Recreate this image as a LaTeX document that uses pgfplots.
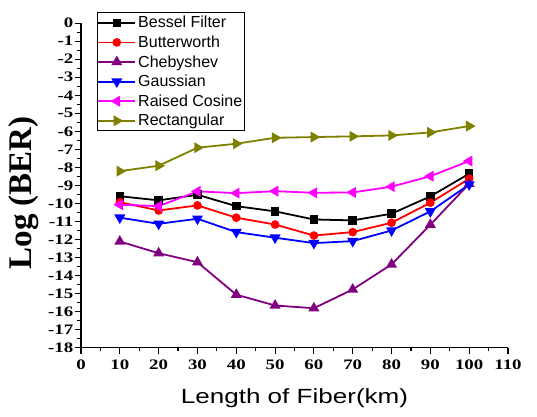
\documentclass[border=0pt]{standalone}
\usepackage{graphicx}
\usepackage{pgfplots}
\pgfplotsset{compat=1.18}
\usepackage{fontspec}
\setmainfont{Liberation Serif}
\newfontfamily\arial{Liberation Sans}
\definecolor{myolive}{RGB}{128,128,0}
\definecolor{mypurple}{RGB}{128,0,128}
\definecolor{mymagenta}{RGB}{255,0,255}
\newcommand\tkl[1]{\scalebox{1.3}[1]{\fontsize{14.5}{14.5}\selectfont\bfseries #1}}
\begin{document}
\begin{tikzpicture}
\path[use as bounding box] (-81pt,-68.7pt) rectangle (456pt,347.7pt);
\begin{axis}[
  anchor=south west, at={(0pt,0pt)},
  scale only axis, width=427pt, height=324.6pt,
  xmin=0, xmax=110, ymin=-18, ymax=0,
  axis lines*=left,
  axis line style={line width=1.3pt},
  tick align=outside,
  major tick length=6pt, minor tick length=3.5pt,
  every tick/.style={black, line width=1.1pt},
  xtick={0,10,...,110}, ytick={-18,-17,...,0},
  xticklabels={\tkl{0},\tkl{10},\tkl{20},\tkl{30},\tkl{40},\tkl{50},\tkl{60},\tkl{70},\tkl{80},\tkl{90},\tkl{100},\tkl{110}},
  yticklabels={\tkl{-18},\tkl{-17},\tkl{-16},\tkl{-15},\tkl{-14},\tkl{-13},\tkl{-12},\tkl{-11},\tkl{-10},\tkl{-9},\tkl{-8},\tkl{-7},\tkl{-6},\tkl{-5},\tkl{-4},\tkl{-3},\tkl{-2},\tkl{-1},\tkl{0}},
  minor x tick num=1, minor y tick num=1,
  xticklabel style={inner sep=1pt, yshift=-5pt},
  yticklabel style={inner sep=1.5pt},
  xlabel={\scalebox{1.27}[1]{Length of Fiber(km)}},
  ylabel={Log (BER)},
  xlabel style={font=\arial\fontsize{20.5}{20.5}\selectfont, at={(axis description cs:0.5,-0.156)}, anchor=center},
  ylabel style={font=\fontsize{33}{33}\selectfont\bfseries, at={(axis description cs:-0.1347,0.477)}, anchor=center},
  clip=false,
  legend cell align=left,
  legend style={at={(rel axis cs:0.0375,1.033)}, anchor=north west,
    font=\arial\fontsize{16}{16}\selectfont, draw=black, line width=0.8pt,
    inner xsep=0pt, inner ysep=1.5pt, row sep=2.5pt},
  legend image code/.code={\draw[mark repeat=2,mark phase=2] plot coordinates {(0cm,0cm)(0.65cm,0cm)(1.3cm,0cm)};},
  every axis plot/.append style={line width=1.8pt, mark size=3.4pt},
]
\addplot[black, mark=square*] coordinates {(10,-9.6) (20,-9.83) (30,-9.52) (40,-10.15) (50,-10.44) (60,-10.89) (70,-10.94) (80,-10.57) (90,-9.61) (100,-8.35)};
\addlegendentry{Bessel Filter}
\addplot[red, mark=*] coordinates {(10,-9.93) (20,-10.39) (30,-10.11) (40,-10.79) (50,-11.17) (60,-11.78) (70,-11.59) (80,-11.07) (90,-9.96) (100,-8.63)};
\addlegendentry{Butterworth}
\addplot[mypurple, mark=triangle*, mark size=4.6pt] coordinates {(10,-12.11) (20,-12.76) (30,-13.26) (40,-15.06) (50,-15.66) (60,-15.81) (70,-14.77) (80,-13.38) (90,-11.18) (100,-8.91)};
\addlegendentry{Chebyshev}
\addplot[blue, mark=triangle*, mark size=4.6pt, mark options={rotate=180}] coordinates {(10,-10.79) (20,-11.13) (30,-10.85) (40,-11.59) (50,-11.9) (60,-12.2) (70,-12.09) (80,-11.5) (90,-10.44) (100,-8.95)};
\addlegendentry{Gaussian}
\addplot[mymagenta, mark=triangle*, mark size=4.6pt, mark options={rotate=90}] coordinates {(10,-10.07) (20,-10.15) (30,-9.33) (40,-9.43) (50,-9.32) (60,-9.41) (70,-9.39) (80,-9.07) (90,-8.49) (100,-7.65)};
\addlegendentry{Raised Cosine}
\addplot[myolive, mark=triangle*, mark size=4.6pt, mark options={rotate=-90}] coordinates {(10,-8.21) (20,-7.91) (30,-6.91) (40,-6.69) (50,-6.36) (60,-6.32) (70,-6.28) (80,-6.23) (90,-6.06) (100,-5.71)};
\addlegendentry{Rectangular}
\end{axis}
\end{tikzpicture}
\end{document}
